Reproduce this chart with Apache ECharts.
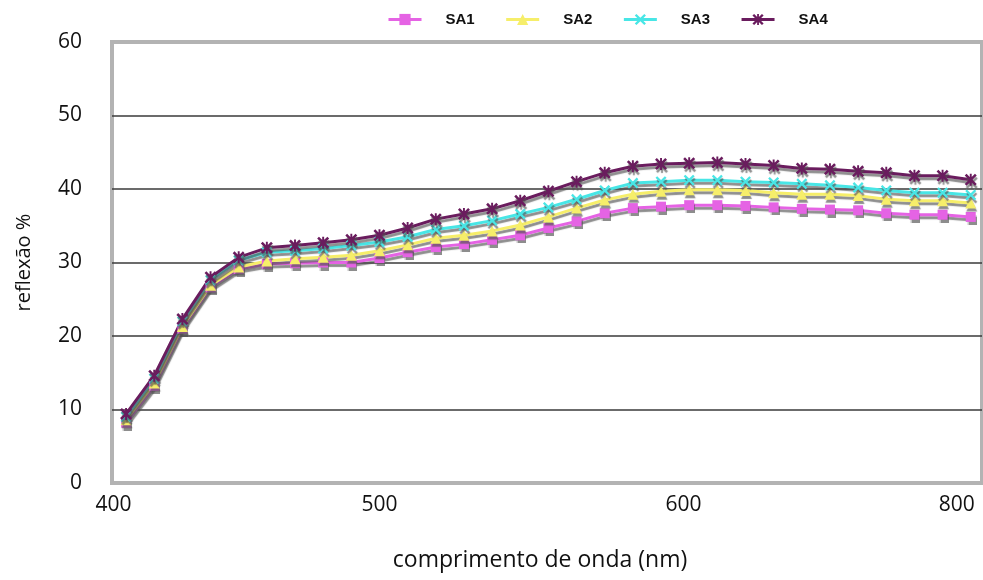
<!DOCTYPE html>
<html>
<head>
<meta charset="utf-8">
<script src="https://cdn.jsdelivr.net/npm/echarts@6/dist/echarts.min.js"></script>
<style>html,body{margin:0;padding:0;background:#fff}#c{width:983px;height:580px}</style>
</head>
<body>
<div id="c"></div>
<script>
// wavelengths (nm)
const wavelengths = [400,410,420,430,440,450,460,470,480,490,500,510,520,530,540,550,560,570,580,590,600,610,620,630,640,650,660,670,680,690,700];
const SA1 = [8.2,13.2,21.0,26.6,29.1,29.8,29.9,30.0,30.0,30.6,31.4,32.1,32.5,33.1,33.7,34.7,35.6,36.7,37.4,37.6,37.8,37.8,37.7,37.5,37.3,37.2,37.1,36.7,36.5,36.5,36.2];
const SA2 = [8.6,13.6,21.3,26.9,29.4,30.2,30.5,30.7,31.0,31.6,32.4,33.3,33.7,34.3,35.1,36.2,37.4,38.5,39.3,39.7,39.9,39.9,39.8,39.5,39.3,39.3,39.1,38.6,38.4,38.4,38.1];
const SA3 = [9.0,14.2,22.0,27.6,30.3,31.4,31.6,31.9,32.3,32.8,33.5,34.5,35.0,35.7,36.6,37.5,38.6,39.8,40.8,41.0,41.2,41.2,41.0,40.9,40.7,40.5,40.2,39.8,39.5,39.5,39.2];
const SA4 = [9.4,14.6,22.3,28.0,30.7,32.0,32.3,32.7,33.1,33.7,34.7,35.9,36.6,37.3,38.4,39.7,41.0,42.2,43.1,43.4,43.5,43.6,43.4,43.2,42.8,42.7,42.4,42.2,41.8,41.8,41.25];
const seriesNames = ['SA1','SA2','SA3','SA4'];
const xTickLabels = ['400','500','600','800'];
const yTicks = [0,10,20,30,40,50,60];

// label anchor positions on the wavelength scale, as printed in the original
const xTickAt = [395.5, 490, 598, 695];

const colors = ['#e563e4','#f6ee6a','#48e6e6','#6a1c5e'];
const xSym = 'path://M0,1.5L1.5,0L5,3.5L8.5,0L10,1.5L6.5,5L10,8.5L8.5,10L5,6.5L1.5,10L0,8.5L3.5,5Z';
const starSym = 'path://M0,1.5L1.5,0L5,3.5L8.5,0L10,1.5L6.5,5L10,8.5L8.5,10L5,6.5L1.5,10L0,8.5L3.5,5Z M4.2,0L5.8,0L5.8,10L4.2,10Z';
const symbols = ['rect','triangle',xSym,starSym];
const symSizes = [10,11,11,12];
const allData = [SA1,SA2,SA3,SA4];

const axisFont = "'Open Sans', sans-serif";
const shadow = 'rgba(80,80,80,0.65)';

const chart = echarts.init(document.getElementById('c'), null, {renderer:'canvas'});
chart.setOption({
  animation: false,
  backgroundColor: '#fff',
  legend: {
    top: 7, left: 382,
    itemWidth: 33, itemHeight: 14, itemGap: 30,
    lineStyle: {width: 3},
    textStyle: {fontFamily:"'Liberation Sans', Arial, sans-serif", fontWeight:'bold', fontSize:15, color:'#111', padding:[0,0,0,19]},
    data: seriesNames
  },
  grid: {
    left: 112, right: 1, top: 42, bottom: 97,
    show: true, borderColor: '#b3b3b3', borderWidth: 4, backgroundColor: 'transparent'
  },
  xAxis: {
    type: 'value', min: 395, max: 704,
    name: 'comprimento de onda (nm)', nameLocation: 'middle', nameGap: 66,
    nameTextStyle: {fontFamily: axisFont, fontSize: 23, color:'#111', padding:[0,14,0,0]},
    axisLine: {show:false}, axisTick: {show:false}, splitLine: {show:false},
    axisLabel: {
      customValues: xTickAt,
      formatter: function(v){ const i = xTickAt.indexOf(v); return i >= 0 ? xTickLabels[i] : ''; },
      fontFamily: axisFont, fontSize: 21, color:'#111', margin: 12
    }
  },
  yAxis: {
    type: 'value', min: 0, max: 60, interval: 10,
    name: 'reflexão %', nameLocation: 'middle', nameGap: 78,
    nameTextStyle: {fontFamily: axisFont, fontSize: 20, color:'#111'},
    axisLine: {show:false}, axisTick: {show:false},
    splitLine: {show:true, showMinLine:false, showMaxLine:false, lineStyle:{color:'#3a3a3a', width:1.5}},
    axisLabel: {fontFamily: axisFont, fontSize: 21, color:'#111', margin: 30}
  },
  series: seriesNames.map((n, k) => ({
    name: n, type: 'line',
    data: wavelengths.map((w, i) => [w, allData[k][i]]),
    symbol: symbols[k], symbolSize: symSizes[k], showSymbol: true,
    lineStyle: {color: colors[k], width: 3, shadowColor: shadow, shadowBlur:1, shadowOffsetX:1, shadowOffsetY:3},
    itemStyle: {color: colors[k], shadowColor: shadow, shadowBlur:1, shadowOffsetX:1, shadowOffsetY:3},
    emphasis: {disabled: true}
  }))
});
</script>
</body>
</html>
